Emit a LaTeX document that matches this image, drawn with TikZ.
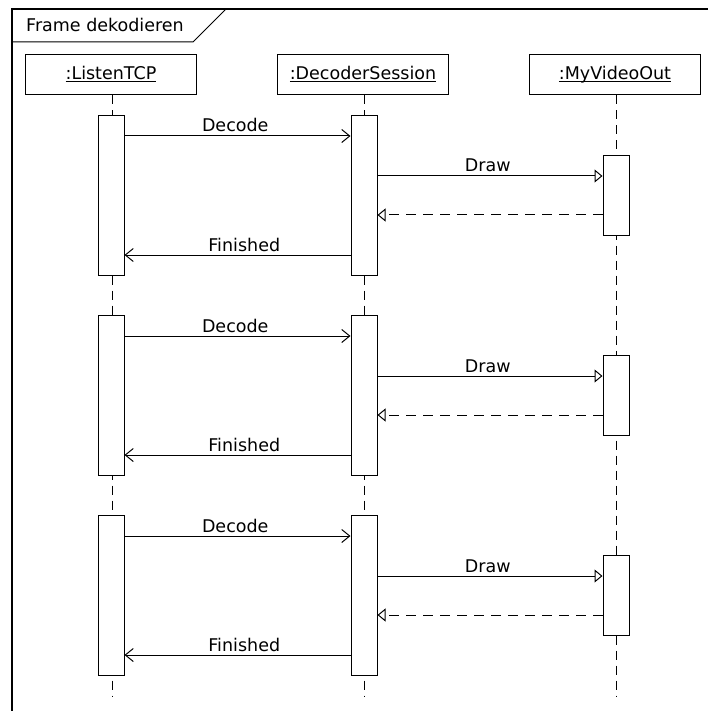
\documentclass[tikz,border=0pt]{standalone}
\usepackage{fontspec}
\setmainfont{DejaVu Sans}
\usetikzlibrary{arrows.meta,calc}
\newcommand\myul[1]{\underline{\raisebox{0pt}[\height][0pt]{#1}}}
\begin{document}
\begin{tikzpicture}[x=1pt,y=-1pt,
  every node/.style={font=\fontsize{17.5}{20}\selectfont},
  head/.style={draw,line width=1pt,minimum width=171pt,minimum height=40pt,inner sep=0pt,fill=white},
  bar/.style={draw,line width=1pt,fill=white,minimum width=26pt,inner sep=0pt},
  lifeline/.style={line width=1pt,dash pattern=on 9pt off 6pt},
  call/.style={line width=1pt,-{Straight Barb[length=8pt,width=13pt,line width=1pt]}},
  async/.style={line width=1pt,-{Triangle[open,length=8pt,width=13pt,line width=1pt,fill=white]}},
  reply/.style={line width=1pt,dash pattern=on 10pt off 7pt,-{Triangle[open,length=8pt,width=13pt,line width=1pt,fill=white]}},
  lbl/.style={anchor=base,yshift=4pt,inner sep=0pt}]
\useasboundingbox (0,0) rectangle (708,711);
\fill[white] (0,0) rectangle (708,711);
% frame
\draw[line width=1.3pt] (708,9) -- (12,9) -- (12,712);
\draw[line width=1pt] (12,42) -- (193,42) -- (226,9);
\node[anchor=base west,inner sep=0pt] (ftitle) at (26,32) {Frame dekodieren};
% heads
\node[head] (hL) at (111,75) {};
\node[head] (hD) at (363,75) {};
\node[head] (hV) at (615,75) {};
\node[anchor=base,inner sep=0pt] (tL) at (111,80) {\myul{:ListenTCP}};
\node[anchor=base,inner sep=0pt] (tD) at (363,80) {\myul{:DecoderSession}};
\node[anchor=base,inner sep=0pt] (tV) at (615,80) {\myul{:MyVideoOut}};
\coordinate (eL) at (112,697);
\coordinate (eD) at (364,697);
\coordinate (eV) at (616,697);
\draw[lifeline] (hL.south -| eL) -- (eL);
\draw[lifeline] (hD.south -| eD) -- (eD);
\draw[lifeline] (hV.south -| eV) -- (eV);
\foreach \i/\t in {1/115,2/315,3/515}{
  \node[bar,minimum height=160pt,anchor=north] (L\i) at (111,\t) {};
  \node[bar,minimum height=160pt,anchor=north] (D\i) at (364,\t) {};
  \node[bar,minimum height=80pt,anchor=north] (V\i) at (616,\t+40) {};
  \draw[call] ($(L\i.north east)+(0,21)$) -- ($(D\i.north west)+(0,21)$)
     node[lbl,pos=0.49] (dec\i) {Decode};
  \draw[async] ($(D\i.north east)+(0,61)$) -- ($(V\i.north west)+(0,21)$)
     node[lbl,pos=0.49] (drw\i) {Draw};
  \draw[reply] ($(V\i.north west)+(0,60)$) -- ($(D\i.north east)+(0,100)$);
  \draw[call] ($(D\i.north west)+(0,140)$) -- ($(L\i.north east)+(0,140)$)
     node[lbl,pos=0.47] (fin\i) {Finished};
}
\end{tikzpicture}
\end{document}
